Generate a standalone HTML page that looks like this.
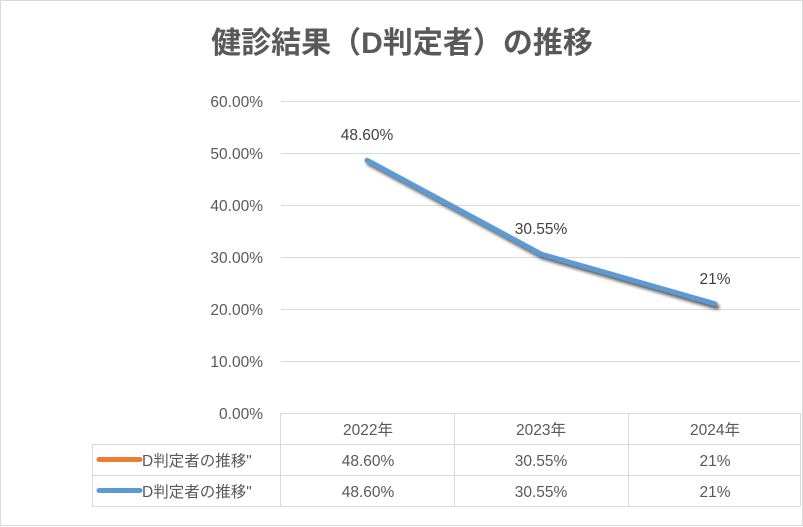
<!DOCTYPE html>
<html><head><meta charset="utf-8"><style>
html,body{margin:0;padding:0;background:#fff;}
svg{display:block;font-family:"Liberation Sans","Noto Sans CJK JP",sans-serif;}
</style></head><body>
<svg width="803" height="527" viewBox="0 0 803 527" xmlns="http://www.w3.org/2000/svg">
<defs><filter id="sh" x="-10%" y="-10%" width="120%" height="130%"><feGaussianBlur stdDeviation="1.5"/></filter></defs>
<rect x="0.5" y="0.5" width="802" height="525" fill="#fff" stroke="#d9d9d9"/>
<text x="402" y="53" text-anchor="middle" font-size="30" font-weight="bold" fill="#595959">健診結果（D判定者）の推移</text>
<g stroke="#d9d9d9" stroke-width="1">
<line x1="281" y1="101.5" x2="800" y2="101.5"/>
<line x1="281" y1="153.5" x2="800" y2="153.5"/>
<line x1="281" y1="205.5" x2="800" y2="205.5"/>
<line x1="281" y1="257.5" x2="800" y2="257.5"/>
<line x1="281" y1="309.5" x2="800" y2="309.5"/>
<line x1="281" y1="361.5" x2="800" y2="361.5"/>
<line x1="281" y1="413.5" x2="800" y2="413.5"/>
<line x1="92" y1="444.5" x2="800" y2="444.5"/>
<line x1="92" y1="475.5" x2="800" y2="475.5"/>
<line x1="92" y1="506.5" x2="800" y2="506.5"/>
<line x1="92.5" y1="444" x2="92.5" y2="506"/>
<line x1="280.5" y1="413" x2="280.5" y2="506"/>
<line x1="454.5" y1="413" x2="454.5" y2="506"/>
<line x1="628.5" y1="413" x2="628.5" y2="506"/>
<line x1="800.5" y1="413" x2="800.5" y2="506"/>
</g>
<g font-size="15.5" fill="#595959" text-anchor="end">
<text x="263" y="107">60.00%</text>
<text x="263" y="159">50.00%</text>
<text x="263" y="211">40.00%</text>
<text x="263" y="263">30.00%</text>
<text x="263" y="315">20.00%</text>
<text x="263" y="367">10.00%</text>
<text x="263" y="419">0.00%</text>
</g>
<polyline points="369,163 543,257 717,307" fill="none" stroke="#333" stroke-width="5" stroke-linecap="round" stroke-linejoin="round" filter="url(#sh)" opacity="0.8"/>
<polyline points="367,160.3 541,254.1 715,303.8" fill="none" stroke="#5b9bd5" stroke-width="5" stroke-linecap="round" stroke-linejoin="round"/>
<g font-size="15.5" fill="#404040" text-anchor="middle">
<text x="367" y="140">48.60%</text>
<text x="541" y="234">30.55%</text>
<text x="715" y="284">21%</text>
</g>
<g font-size="15.5" fill="#595959" text-anchor="middle">
<text x="368" y="435">2022年</text>
<text x="541" y="435">2023年</text>
<text x="715" y="435">2024年</text>
<text x="368" y="466">48.60%</text>
<text x="541" y="466">30.55%</text>
<text x="715" y="466">21%</text>
<text x="368" y="497">48.60%</text>
<text x="541" y="497">30.55%</text>
<text x="715" y="497">21%</text>
</g>
<line x1="99" y1="459.5" x2="140" y2="459.5" stroke="#ed7d31" stroke-width="5" stroke-linecap="round"/>
<line x1="99" y1="490.5" x2="140" y2="490.5" stroke="#5b9bd5" stroke-width="5" stroke-linecap="round"/>
<g font-size="15.5" fill="#595959">
<text x="142" y="466">D判定者の推移"</text>
<text x="142" y="497">D判定者の推移"</text>
</g>
</svg>
</body></html>
